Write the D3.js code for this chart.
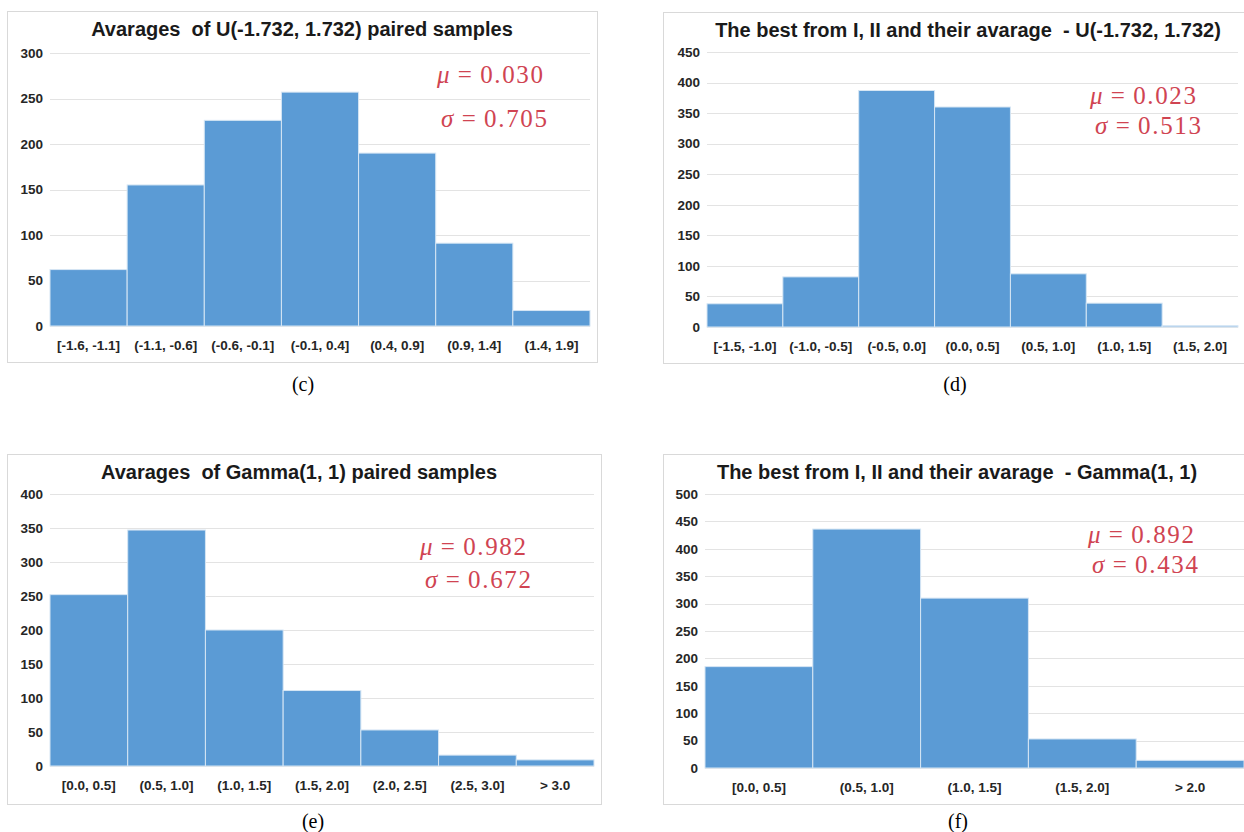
<!DOCTYPE html>
<html>
<head>
<meta charset="utf-8">
<script src="https://cdn.jsdelivr.net/npm/d3@7"></script>
<style>
  body { margin: 0; background: #fff; }
  svg { display: block; }
</style>
</head>
<body>
<div id="chart"></div>
<script>
// bins and counts
var cLabels = ["[-1.6, -1.1]", "(-1.1, -0.6]", "(-0.6, -0.1]", "(-0.1, 0.4]", "(0.4, 0.9]", "(0.9, 1.4]", "(1.4, 1.9]"];
var cCounts = [62, 155, 226, 257, 190, 91, 17];
var dLabels = ["[-1.5, -1.0]", "(-1.0, -0.5]", "(-0.5, 0.0]", "(0.0, 0.5]", "(0.5, 1.0]", "(1.0, 1.5]", "(1.5, 2.0]"];
var dCounts = [38, 82, 387, 360, 87, 39, 2];
var eLabels = ["[0.0, 0.5]", "(0.5, 1.0]", "(1.0, 1.5]", "(1.5, 2.0]", "(2.0, 2.5]", "(2.5, 3.0]", "> 3.0"];
var eCounts = [252, 347, 200, 111, 53, 16, 9];
var fLabels = ["[0.0, 0.5]", "(0.5, 1.0]", "(1.0, 1.5]", "(1.5, 2.0]", "> 2.0"];
var fCounts = [185, 436, 310, 53, 14];

var titles = [
    "Avarages  of U(-1.732, 1.732) paired samples",
    "The best from I, II and their avarage  - U(-1.732, 1.732)",
    "Avarages  of Gamma(1, 1) paired samples",
    "The best from I, II and their avarage  - Gamma(1, 1)"
];
var yMax = [300, 450, 400, 500];
var muVals = ["0.030", "0.023", "0.982", "0.892"];
var sigmaVals = ["0.705", "0.513", "0.672", "0.434"];
var captions = ["(c)", "(d)", "(e)", "(f)"];

var svg = d3.select("#chart").append("svg")
    .attr("width", 1244)
    .attr("height", 832);

// layout of each panel (box, plot area, text spots)
var panels = [
    {labels: cLabels, counts: cCounts, box: [7, 11, 590, 351], plot: [50, 53, 590, 326],
     titleX: 302, mu: [437, 83], sigma: [441, 127], capX: 303, capY: 391},
    {labels: dLabels, counts: dCounts, box: [663, 12, 600, 351], plot: [707, 52, 1238, 327],
     titleX: 968, mu: [1090, 104], sigma: [1095, 134], capX: 955, capY: 391},
    {labels: eLabels, counts: eCounts, box: [7, 454, 594, 350], plot: [50, 494, 594, 766],
     titleX: 299, mu: [420, 555], sigma: [425, 588], capX: 313, capY: 828},
    {labels: fLabels, counts: fCounts, box: [663, 454, 600, 350], plot: [705, 494, 1244, 768],
     titleX: 957, mu: [1088, 543], sigma: [1092, 573], capX: 958, capY: 828}
];

panels.forEach(function(p, k) {
    var g = svg.append("g");

    g.append("rect")
        .attr("x", p.box[0] + 0.5)
        .attr("y", p.box[1] + 0.5)
        .attr("width", p.box[2])
        .attr("height", p.box[3])
        .attr("fill", "#fff")
        .attr("stroke", "#d9d9d9");

    var x = d3.scaleBand()
        .domain(p.labels)
        .range([p.plot[0], p.plot[2]])
        .padding(0);
    var y = d3.scaleLinear()
        .domain([0, yMax[k]])
        .range([p.plot[3], p.plot[1]]);

    var ticks = d3.range(0, yMax[k] + 1, 50);

    // grid lines
    g.selectAll("line.grid")
        .data(ticks)
        .enter().append("line")
        .attr("class", "grid")
        .attr("x1", p.plot[0])
        .attr("x2", p.plot[2])
        .attr("y1", function(d) { return Math.round(y(d)) + 0.5; })
        .attr("y2", function(d) { return Math.round(y(d)) + 0.5; })
        .attr("stroke", "#e3e3e3")
        .attr("stroke-width", 1.2);

    // y axis labels
    var yAxis = d3.axisLeft(y).tickValues(ticks).tickSize(0).tickPadding(7);
    var ya = g.append("g")
        .attr("transform", "translate(" + p.plot[0] + ",0)")
        .call(yAxis);
    ya.select(".domain").remove();
    ya.selectAll("text")
        .attr("font-family", "Liberation Sans, Arial, sans-serif")
        .attr("font-weight", "bold")
        .attr("font-size", 13.5)
        .attr("fill", "#262626");

    // bars
    g.selectAll("rect.bar")
        .data(p.counts)
        .enter().append("rect")
        .attr("class", "bar")
        .attr("x", function(d, i) { return x(p.labels[i]); })
        .attr("y", function(d) { return y(d); })
        .attr("width", x.bandwidth())
        .attr("height", function(d) { return y(0) - y(d); })
        .attr("fill", "#5b9bd5")
        .attr("stroke", "#d6e6f4")
        .attr("stroke-width", 1);

    // x axis labels
    var xAxis = d3.axisBottom(x).tickSize(0).tickPadding(14);
    var xa = g.append("g")
        .attr("transform", "translate(0," + p.plot[3] + ")")
        .call(xAxis);
    xa.select(".domain").remove();
    xa.selectAll("text")
        .attr("font-family", "Liberation Sans, Arial, sans-serif")
        .attr("font-weight", "bold")
        .attr("font-size", 13.5)
        .attr("fill", "#262626");

    // title
    g.append("text")
        .attr("x", p.titleX)
        .attr("y", p.box[1] + 25)
        .attr("text-anchor", "middle")
        .attr("font-family", "Liberation Sans, Arial, sans-serif")
        .attr("font-weight", "bold")
        .attr("font-size", 20)
        .attr("fill", "#1a1a1a")
        .style("white-space", "pre")
        .text(titles[k]);

    // mu / sigma
    var stats = [["\u03bc", muVals[k], p.mu], ["\u03c3", sigmaVals[k], p.sigma]];
    stats.forEach(function(s) {
        var t = g.append("text")
            .attr("x", s[2][0])
            .attr("y", s[2][1])
            .attr("font-family", "Liberation Serif, Times New Roman, serif")
            .attr("font-size", 25)
            .attr("fill", "#d04452")
            .attr("textLength", 106)
            .attr("lengthAdjust", "spacing")
            .style("white-space", "pre");
        t.append("tspan").attr("font-style", "italic").text(s[0]);
        t.append("tspan").text("\u2009=\u2009" + s[1]);
    });

    // caption
    svg.append("text")
        .attr("x", p.capX)
        .attr("y", p.capY)
        .attr("text-anchor", "middle")
        .attr("font-family", "Liberation Serif, Times New Roman, serif")
        .attr("font-size", 20)
        .attr("fill", "#000")
        .text(captions[k]);
});
</script>
</body>
</html>
